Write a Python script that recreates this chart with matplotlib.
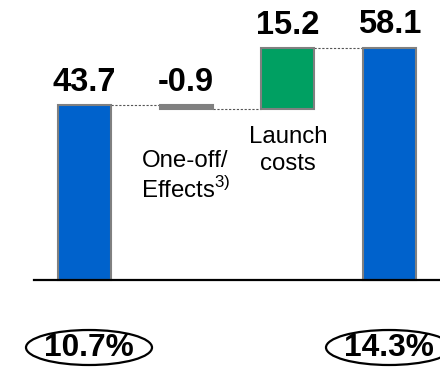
import matplotlib
matplotlib.use("Agg")
import matplotlib.pyplot as plt
from matplotlib.patches import Ellipse

plt.rcParams['font.family'] = ['Liberation Sans', 'DejaVu Sans']
plt.rcParams['mathtext.fontset'] = 'custom'
plt.rcParams['mathtext.rm'] = 'Liberation Sans'

# Bridge steps: start total, two deltas, end total
categories = ["", "One-off/\nEffects$^{\\mathrm{3)}}$", "Launch\ncosts", ""]
values = [43.7, -0.9, 15.2, 58.1]
kinds = ["total", "delta", "delta", "total"]
value_labels = ["43.7", "-0.9", "15.2", "58.1"]
margin_labels = ["10.7%", "", "", "14.3%"]

BLUE = "#0062CC"
GREEN = "#00A062"
GREY = "#808080"

W, H = 440, 368
fig = plt.figure(figsize=(W / 100, H / 100), dpi=100)
ax = fig.add_axes([0, 0, 1, 1])

# pixel geometry -> data limits
x0_px, step_px = 84.5, 101.7
base_px, ypx = 280, 4.0
ax.set_xlim(-x0_px / step_px, (W - x0_px) / step_px)
ax.set_ylim(-(H - base_px) / ypx, base_px / ypx)
ax.axis("off")

width = 0.52
running = 0.0
steps = []
for i, (v, k) in enumerate(zip(values, kinds)):
    if k == "total":
        bottom, height = 0.0, v
        color = BLUE
        running = v
    else:
        if v < 0:
            bottom, height = running + v, -v
            color = GREY
        else:
            bottom, height = running, v
            color = GREEN
        running = running + v
    ax.bar(i, height, bottom=bottom, width=width, color=color,
           edgecolor=GREY, linewidth=1.5, zorder=3)
    steps.append((bottom, bottom + height, running))

# connectors between successive steps
for i in range(len(values) - 1):
    ax.plot([i + width / 2, i + 1 - width / 2], [steps[i][2], steps[i][2]],
            color="#555555", linestyle=(0, (2, 1.5)), linewidth=0.8, zorder=2)

# value labels above each step
for i in range(len(values)):
    top = steps[i][1]
    ax.text(i, top + 1.8, value_labels[i], ha="center", va="bottom",
            fontsize=23.5, fontweight="bold", color="black")

# category labels
ax.text(1 - 0.44, 32.5, categories[1], ha="left", va="top", fontsize=17.3,
        linespacing=1.25)
ax.text(2, 38.5, categories[2], ha="center", va="top", fontsize=17.3,
        linespacing=1.3)

# baseline
ax.plot([(33.5 - x0_px) / step_px, (W - x0_px) / step_px], [0, 0],
        color="black", linewidth=1.6, zorder=4)

# margin labels in ellipses
centers_px = [89, None, None, 389]
for i, m in enumerate(margin_labels):
    if not m:
        continue
    cx = (centers_px[i] - x0_px) / step_px
    cy = -(347.5 - base_px) / ypx
    ax.add_patch(Ellipse((cx, cy), 126 / step_px, 35 / ypx,
                         facecolor="none", edgecolor="black", linewidth=1.6,
                         zorder=3))
    ax.text(cx, cy - 0.2, m, ha="center", va="center",
            fontsize=22.8, fontweight="bold", zorder=4)

fig.savefig("out.png", dpi=100)
